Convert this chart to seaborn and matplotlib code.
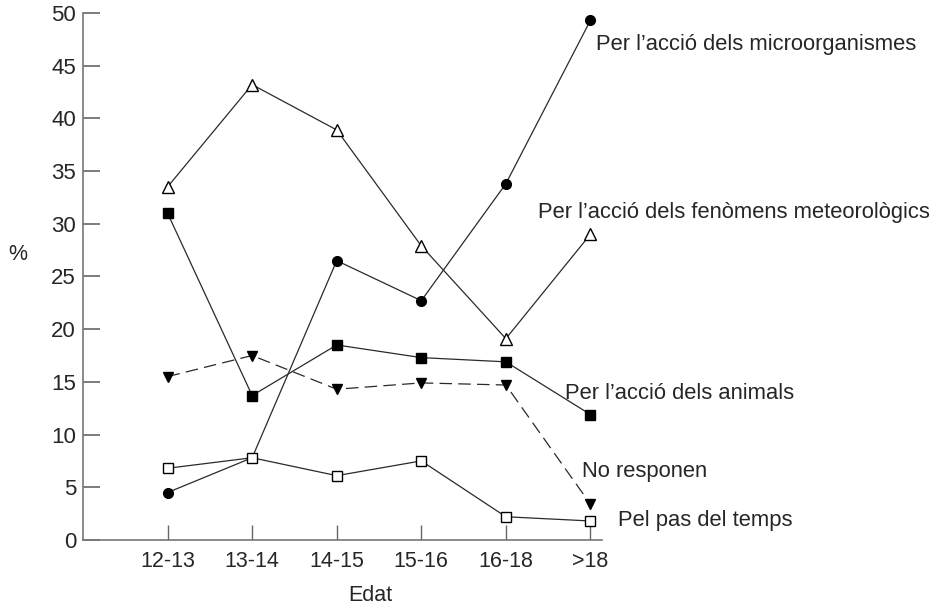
import matplotlib
matplotlib.use("Agg")
import matplotlib.pyplot as plt
import seaborn as sns
import pandas as pd

sns.set_style("white")
plt.rcParams['font.family'] = ['Liberation Sans', 'DejaVu Sans']

edat = ["12-13", "13-14", "14-15", "15-16", "16-18", ">18"]

microorganismes = [4.5, 7.8, 26.5, 22.7, 33.8, 49.3]
meteorologics = [33.5, 43.2, 38.9, 27.9, 19.1, 29.0]
animals = [31.0, 13.7, 18.5, 17.3, 16.9, 11.9]
no_responen = [15.5, 17.5, 14.3, 14.9, 14.7, 3.4]
pas_temps = [6.8, 7.8, 6.1, 7.5, 2.2, 1.8]

labels = ["Per l\u2019acció dels microorganismes",
          "Per l\u2019acció dels fenòmens meteorològics",
          "Per l\u2019acció dels animals",
          "No responen",
          "Pel pas del temps"]

series = [microorganismes, meteorologics, animals, no_responen, pas_temps]
# marker, facecolor, size, dashes
styles = [("o", "black", 7, None),
          ("^", "white", 8.5, None),
          ("s", "black", 7, None),
          ("v", "black", 6.5, (10, 5)),
          ("s", "white", 7.5, None)]
# label anchor (x in category units, y in %)
label_pos = [(5.06, 47.0), (4.385, 31.1), (4.70, 13.9), (4.905, 6.5), (5.33, 1.8)]

fig = plt.figure(figsize=(9.39, 6.06), dpi=100)
ax = fig.add_axes([0.0884, 0.109, 0.553, 0.8696])

for vals, (mk, fc, ms, dash), lab, (lx, ly) in zip(series, styles, labels, label_pos):
    df = pd.DataFrame({"Edat": edat, "pct": vals})
    sns.lineplot(data=df, x="Edat", y="pct", ax=ax, color="#2a2a2a",
                 linewidth=0.9, marker=mk, markersize=ms,
                 markerfacecolor=fc, markeredgecolor="black",
                 markeredgewidth=1.0, sort=False)
    ln = ax.lines[-1]
    ln.set_clip_on(False)
    if dash is not None:
        ln.set_dashes(dash)
    ax.text(lx, ly, lab, fontsize=15.8, ha="left", va="center", clip_on=False)

ax.set_xlim(-1, 5.14)
ax.set_ylim(0, 50)
ax.set_yticks(range(0, 51, 5))
ax.set_xticks(range(len(edat)))
ax.set_xticklabels(edat)

for s in ["top", "right"]:
    ax.spines[s].set_visible(False)
for s in ["left", "bottom"]:
    ax.spines[s].set_color("#777777")
    ax.spines[s].set_linewidth(1.2)

ax.tick_params(axis="y", direction="in", length=12, width=1.2, color="#666666",
               labelsize=16, pad=5, left=True)
ax.tick_params(axis="x", direction="in", length=11, width=1.0, color="#666666",
               labelsize=15.5, pad=8, bottom=True)

ax.set_xlabel("Edat", fontsize=15.5)
ax.xaxis.set_label_coords(0.553, -0.086)
ax.set_ylabel("%", fontsize=15.5, rotation=0, va="center", ha="center")
ax.yaxis.set_label_coords(-0.125, 0.541)

fig.savefig("out.png", dpi=100)
